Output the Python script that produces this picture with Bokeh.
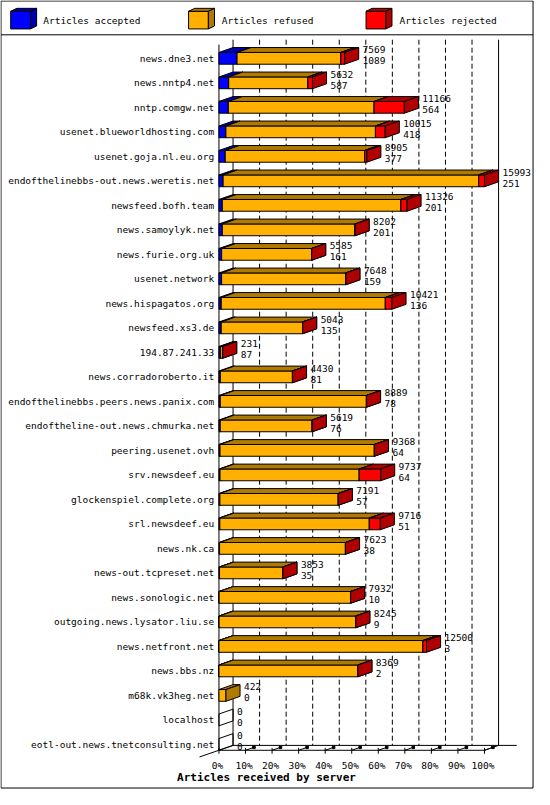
from bokeh.plotting import figure
from bokeh.models import Range1d, ColumnDataSource
from bokeh.core.properties import value
from bokeh.embed import file_html
from bokeh.resources import INLINE

# ---------------- data ----------------
servers = [
    "news.dne3.net", "news.nntp4.net", "nntp.comgw.net", "usenet.blueworldhosting.com",
    "usenet.goja.nl.eu.org", "endofthelinebbs-out.news.weretis.net", "newsfeed.bofh.team",
    "news.samoylyk.net", "news.furie.org.uk", "usenet.network", "news.hispagatos.org",
    "newsfeed.xs3.de", "194.87.241.33", "news.corradoroberto.it",
    "endofthelinebbs.peers.news.panix.com", "endoftheline-out.news.chmurka.net",
    "peering.usenet.ovh", "srv.newsdeef.eu", "glockenspiel.complete.org", "srl.newsdeef.eu",
    "news.nk.ca", "news-out.tcpreset.net", "news.sonologic.net", "outgoing.news.lysator.liu.se",
    "news.netfront.net", "news.bbs.nz", "m68k.vk3heg.net", "localhost",
    "eotl-out.news.tnetconsulting.net",
]
accepted = [1089, 587, 564, 418, 377, 251, 201, 201, 161, 159, 136, 135, 87, 81, 78, 76,
            64, 64, 57, 51, 38, 35, 10, 9, 3, 2, 0, 0, 0]
refused = [6250, 4775, 8782, 9007, 8398, 15392, 10755, 7989, 5419, 7474, 9885, 4900, 124,
           4344, 8801, 5538, 9294, 8383, 7129, 9005, 7577, 3813, 7912, 8226, 12277, 8359,
           422, 0, 0]
rejected = [230, 270, 1820, 590, 130, 350, 370, 12, 5, 15, 400, 8, 20, 5, 10, 5, 10, 1290,
            5, 660, 8, 5, 10, 10, 220, 8, 0, 0, 0]

series_names = ["Articles accepted", "Articles refused", "Articles rejected"]
series_colors = ["#0000FF", "#FFB000", "#FF0000"]
series_shades = ["#0000B0", "#B07A00", "#B00000"]
pct_ticks = [0, 10, 20, 30, 40, 50, 60, 70, 80, 90, 100]
pct_labels = ["0%", "10%", "20%", "30%", "40%", "50%", "60%", "70%", "80%", "90%", "100%"]
x_title = "Articles received by server"

# ---------------- layout (reference pixel geometry) ----------------
X0, XS = 225.0, 2.735      # front 0% pixel, pixels per percent
Y0, YS = 59.0, 25.0        # first row centre pixel, pixels per row
DXP, DYP = 14.5, -5.0      # 3d depth offset in pixels
HP = 6.0                   # half bar height in pixels

def px(x):
    return (x - X0) / XS

def py(y):
    return (y - Y0) / YS

DX = DXP / XS
DY = DYP / YS
H = HP / YS

FONT = value("DejaVu Sans Mono")

p = figure(width=534, height=789,
           x_range=Range1d(px(0), px(550)), y_range=Range1d(py(805), py(0)),
           x_axis_type=None, y_axis_type=None, toolbar_location=None,
           output_backend="svg", min_border=0, outline_line_color=None,
           background_fill_color="white", border_fill_color="white")

# outer frame and legend separator
p.quad(left=[px(0.5)], right=[px(548.5)], top=[py(0.5)], bottom=[py(803.5)],
       fill_color=None, line_color="black", line_width=1)
p.segment(x0=[px(0.5)], y0=[py(35)], x1=[px(548.5)], y1=[py(35)],
          line_color="black", line_width=1)

n = len(servers)
floor_y = (n - 1) + H          # front floor line (row units)
wall_top = py(40)

# back wall grid lines
solid = [t for t in pct_ticks if t in (0, 100)]
dashed = [t for t in pct_ticks if t not in (0, 100)]
p.segment(x0=[t + DX for t in solid], y0=[wall_top] * len(solid),
          x1=[t + DX for t in solid], y1=[floor_y + DY] * len(solid),
          line_color="black", line_width=1)
p.segment(x0=[t + DX for t in dashed], y0=[wall_top] * len(dashed),
          x1=[t + DX for t in dashed], y1=[floor_y + DY] * len(dashed),
          line_color="black", line_width=1, line_dash="5 3")

# left wall front edge
p.segment(x0=[0], y0=[wall_top - DY], x1=[0], y1=[floor_y], line_color="black", line_width=1)

# floor
p.segment(x0=[0, DX, px(205), 100], y0=[floor_y, floor_y + DY, floor_y + 6.8 / YS, floor_y],
          x1=[100, px(531.7), DX, 100 + DX], y1=[floor_y, floor_y + DY, floor_y + DY, floor_y + DY],
          line_color="black", line_width=1)
p.segment(x0=pct_ticks, y0=[floor_y - 2.5 / YS] * len(pct_ticks),
          x1=pct_ticks, y1=[floor_y + 3.5 / YS] * len(pct_ticks),
          line_color="black", line_width=1)
inner = pct_ticks[1:-1] + [100]
p.segment(x0=inner, y0=[floor_y] * len(inner),
          x1=[t + 0.6 * DX for t in inner], y1=[floor_y + 0.6 * DY] * len(inner),
          line_color="black", line_width=1)
p.scatter(x=[t + 0.6 * DX for t in inner], y=[floor_y + 0.6 * DY] * len(inner),
          marker="square", size=2.5, color="black")

# ---------------- bars ----------------
totals = [a + r + j for a, r, j in zip(accepted, refused, rejected)]
vmax = max(totals)

def pct(v):
    return v / vmax * 100.0

bx, by, bf, ba = [], [], [], []

def box(x1, x2, yc, h, dx, dy, front, shade, alpha=1.0):
    bx.append([x1, x2, x2, x1]); by.append([yc - h, yc - h, yc + h, yc + h])
    bf.append(front); ba.append(alpha)
    bx.append([x1, x2, x2 + dx, x1 + dx]); by.append([yc - h, yc - h, yc - h + dy, yc - h + dy])
    bf.append(shade); ba.append(alpha)
    bx.append([x2, x2 + dx, x2 + dx, x2]); by.append([yc - h, yc - h + dy, yc + h + dy, yc + h])
    bf.append(shade); ba.append(alpha)

for i in range(n):
    vals = [accepted[i], refused[i], rejected[i]]
    if totals[i] == 0:
        bx.append([0, DX, DX, 0]); by.append([i - H, i - H + DY, i + H + DY, i + H])
        bf.append("white"); ba.append(0.0)
        continue
    start = 0.0
    for k, v in enumerate(vals):
        if v <= 0:
            continue
        end = start + pct(v)
        box(start, end, i, H, DX, DY, series_colors[k], series_shades[k])
        start = end

p.patches(xs=bx, ys=by, source=None, fill_color=bf, fill_alpha=ba,
          line_color="black", line_width=1) if False else None
src = ColumnDataSource(dict(xs=bx, ys=by, fc=bf, fa=ba))
p.patches(xs="xs", ys="ys", fill_color="fc", fill_alpha="fa", source=src,
          line_color="black", line_width=1)

# value labels
lab_x = [pct(t) + DX + 4.0 / XS for t in totals]
p.text(x=lab_x, y=[i - 8.6 / YS for i in range(n)], text=[str(t) for t in totals],
       text_font=FONT, text_font_size="9.5px", text_align="left", text_baseline="middle",
       text_color="black")
p.text(x=lab_x, y=[i + 2.6 / YS for i in range(n)], text=[str(a) for a in accepted],
       text_font=FONT, text_font_size="9.5px", text_align="left", text_baseline="middle",
       text_color="black")

# category labels
p.text(x=[px(220)] * n, y=list(range(n)), text=servers, text_font=FONT,
       text_font_size="9.5px", text_align="right", text_baseline="middle", text_color="black")

# percent labels
p.text(x=[t - 1.5 / XS for t in pct_ticks], y=[py(780.5)] * len(pct_ticks), text=pct_labels,
       text_font=FONT, text_font_size="9.5px", text_align="center", text_baseline="middle",
       text_color="black")

# axis title
p.text(x=[px(274)], y=[py(792.5)], text=[x_title], text_font=FONT, text_font_size="11px",
       text_font_style="bold", text_align="center", text_baseline="middle", text_color="black")

# ---------------- legend ----------------
sw_left = [10.5, 193.7, 376.5]
txt_left = [44, 228, 411]
lx, ly, lf = [], [], []
ldx, ldy = 6.3 / XS, -3.0 / YS
for k in range(3):
    x1, x2 = px(sw_left[k]), px(sw_left[k] + 20.4)
    yc, h = py(20), 9.0 / YS
    lx.append([x1, x2, x2, x1]); ly.append([yc - h, yc - h, yc + h, yc + h]); lf.append(series_colors[k])
    lx.append([x1, x2, x2 + ldx, x1 + ldx]); ly.append([yc - h, yc - h, yc - h + ldy, yc - h + ldy]); lf.append(series_shades[k])
    lx.append([x2, x2 + ldx, x2 + ldx, x2]); ly.append([yc - h, yc - h + ldy, yc + h + ldy, yc + h]); lf.append(series_shades[k])
lsrc = ColumnDataSource(dict(xs=lx, ys=ly, fc=lf))
p.patches(xs="xs", ys="ys", fill_color="fc", source=lsrc, line_color="black", line_width=1)
p.text(x=[px(t) for t in txt_left], y=[py(20.5)] * 3, text=series_names, text_font=FONT,
       text_font_size="9.5px", text_align="left", text_baseline="middle", text_color="black")

open("out.html", "w").write(file_html(p, INLINE))
